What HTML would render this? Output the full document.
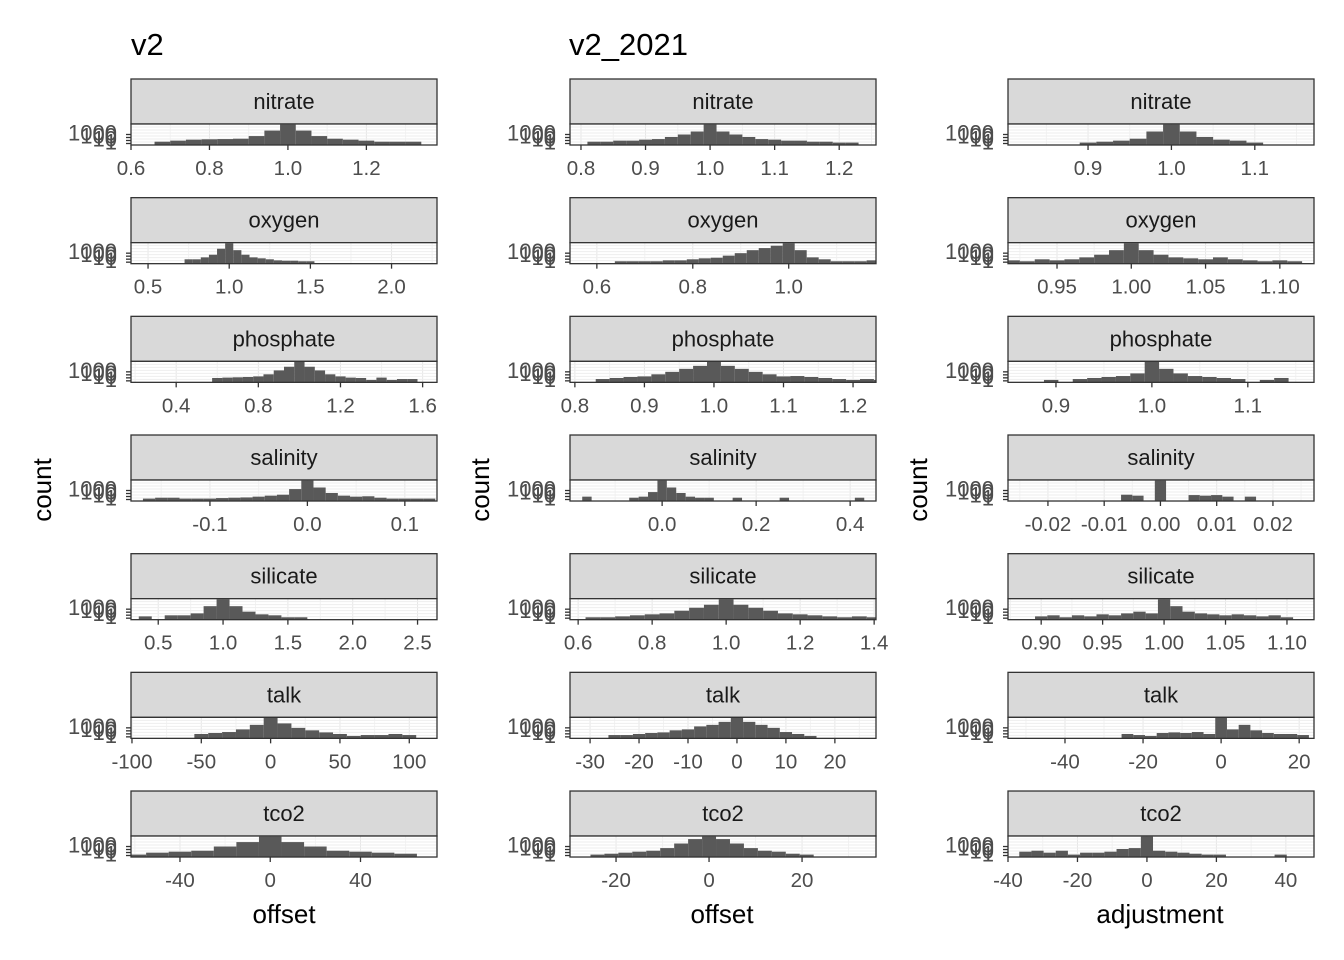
<!DOCTYPE html>
<html><head><meta charset="utf-8"><style>
body{margin:0;background:#fff;}
svg{display:block;font-family:"Liberation Sans",sans-serif;}
</style></head><body>
<svg id="chart" width="1344" height="960" viewBox="0 0 1344 960">
<text x="131" y="55" font-size="31" fill="#000">v2</text>
<text x="569" y="55" font-size="31" fill="#000">v2_2021</text>
<text transform="translate(51,490) rotate(-90)" text-anchor="middle" font-size="26">count</text>
<text transform="translate(489,490) rotate(-90)" text-anchor="middle" font-size="26">count</text>
<text transform="translate(927,490) rotate(-90)" text-anchor="middle" font-size="26">count</text>
<text x="284" y="923" text-anchor="middle" font-size="26">offset</text>
<text x="722" y="923" text-anchor="middle" font-size="26">offset</text>
<text x="1160" y="923" text-anchor="middle" font-size="26">adjustment</text>
<g id="panels"></g>
</svg>
<script>
const variables = ["nitrate","oxygen","phosphate","salinity","silicate","talk","tco2"];
// per column: x domains, tick values, first bin centre, bin width, counts
const domains1 = [[0.6,1.38],[0.395,2.28],[0.18,1.67],[-0.181,0.133],[0.29,2.65],[-100.7,120],[-61.7,73.9]];
const ticks1 = [[0.6,0.8,1.0,1.2],[0.5,1.0,1.5,2.0],[0.4,0.8,1.2,1.6],[-0.1,0.0,0.1],[0.5,1.0,1.5,2.0,2.5],[-100,-50,0,50,100],[-40,0,40]];
const tickLabels1 = [["0.6","0.8","1.0","1.2"],["0.5","1.0","1.5","2.0"],["0.4","0.8","1.2","1.6"],["-0.1","0.0","0.1"],["0.5","1.0","1.5","2.0","2.5"],["-100","-50","0","50","100"],["-40","0","40"]];
const binStart1 = [0.68,0.75,0.6,-0.1625,0.4,-50,-60];
const binWidth1 = [0.04,0.05,0.05,0.0125,0.1,10,10];
const counts1 = [
 [4,9,19,25,30,40,300,20000,2000000,20000,300,40,19,9,4,4,4],
 [9,9,40,300,30000,2000000,10000,300,40,19,9,4,3,3,2,2],
 [9,12,15,19,30,150,3000,50000,2000000,50000,3000,150,30,12,9,2,12,2,4,4],
 [2,4,4,2,2,2,3,4,5,9,19,40,3000,2000000,10000,150,19,9,12,4,2,2,2,2],
 [4,1,9,9,40,10000,2000000,10000,150,19,9,2,2],
 [9,19,40,300,10000,2000000,30000,1000,150,30,9,2,4,4,9,4],
 [2,9,19,40,1000,30000,2000000,30000,1000,40,19,9,4]
];
const domains2 = [[0.783,1.257],[0.544,1.182],[0.793,1.233],[-0.196,0.455],[0.578,1.405],[-34.1,28.4],[-29.9,35.9]];
const ticks2 = [[0.8,0.9,1.0,1.1,1.2],[0.6,0.8,1.0],[0.8,0.9,1.0,1.1,1.2],[0.0,0.2,0.4],[0.6,0.8,1.0,1.2,1.4],[-30,-20,-10,0,10,20],[-20,0,20]];
const tickLabels2 = [["0.8","0.9","1.0","1.1","1.2"],["0.6","0.8","1.0"],["0.8","0.9","1.0","1.1","1.2"],["0.0","0.2","0.4"],["0.6","0.8","1.0","1.2","1.4"],["-30","-20","-10","0","10","20"],["-20","0","20"]];
const binStart2 = [0.82,0.65,0.84,-0.16,0.64,-25,-24];
const binWidth2 = [0.02,0.025,0.02,0.02,0.04,2.5,3];
const counts2 = [
 [4,4,9,9,19,30,150,1000,10000,2000000,10000,1000,150,30,19,9,9,4,4,2,2],
 [2,2,2,2,4,4,9,19,30,150,1000,10000,50000,300000,2000000,10000,40,9,2,2,2,4],
 [4,9,19,30,150,1000,10000,100000,2000000,100000,10000,1000,150,30,40,19,9,4,2,4,2,2],
 [9,1,1,1,1,4,9,300,2000000,10000,150,9,4,4,1,1,4,1,1,1,1,4,1,1,1,1,1,1,1,4,1,1],
 [2,2,4,9,19,40,300,3000,30000,2000000,30000,3000,300,40,19,9,4,2,4,2],
 [4,4,9,19,30,150,300,3000,10000,100000,2000000,100000,10000,1000,40,9,2,1,1,1,1],
 [2,4,9,19,40,300,10000,300000,2000000,300000,10000,300,40,19,4,2,1,1,1]
];
const domains3 = [[0.804,1.171],[0.917,1.123],[0.85,1.169],[-0.0271,0.0273],[0.873,1.122],[-54.6,23.8],[-40,48.1]];
const ticks3 = [[0.9,1.0,1.1],[0.95,1.0,1.05,1.1],[0.9,1.0,1.1],[-0.02,-0.01,0,0.01,0.02],[0.9,0.95,1.0,1.05,1.1],[-40,-20,0,20],[-40,-20,0,20,40]];
const tickLabels3 = [["0.9","1.0","1.1"],["0.95","1.00","1.05","1.10"],["0.9","1.0","1.1"],["-0.02","-0.01","0.00","0.01","0.02"],["0.90","0.95","1.00","1.05","1.10"],["-40","-20","0","20"],["-40","-20","0","20","40"]];
const binStart3 = [0.9,0.92,0.895,-0.006,0.9,-24,-42];
const binWidth3 = [0.02,0.01,0.015,0.002,0.01,3,3.5];
const counts3 = [
 [2,4,9,40,10000,2000000,10000,150,19,9,2],
 [4,2,9,4,9,40,300,10000,2000000,10000,300,40,19,9,40,9,4,2,4,2],
 [2,1,4,9,19,40,300,2000000,10000,300,40,19,9,4,1,2,9,1],
 [40,19,1,2000000,1,1,30,19,30,9,1,9],
 [4,9,2,9,4,19,9,40,150,40,2000000,10000,150,40,19,9,19,9,4,9,2],
 [9,4,2,19,30,19,40,9,2000000,300,10000,150,19,9,9,4],
 [9,1,19,40,9,40,2,9,9,19,150,300,2000000,40,19,9,4,2,2,1,1,1,1,2]
];
const yTickValues = [1,10,100,1000];
const yTickLabels = ["1","10","100","1000"];

const NS="http://www.w3.org/2000/svg";
const root=document.getElementById("panels");
function mk(tag,attrs,parent){const e=document.createElementNS(NS,tag);for(const k in attrs)e.setAttribute(k,attrs[k]);(parent||root).appendChild(e);return e;}
const colX=[131,570,1008], PW=306;
const cols=[
 {d:domains1,t:ticks1,tl:tickLabels1,bs:binStart1,bw:binWidth1,c:counts1},
 {d:domains2,t:ticks2,tl:tickLabels2,bs:binStart2,bw:binWidth2,c:counts2},
 {d:domains3,t:ticks3,tl:tickLabels3,bs:binStart3,bw:binWidth3,c:counts3}];
const PXDEC=3.0;
cols.forEach((col,ci)=>{
 variables.forEach((v,ri)=>{
  const x0=colX[ci], top=79+ri*118.67, sTop=top, sBot=top+45, pTop=sBot, pBot=sBot+21;
  const [d0,d1]=col.d[ri];
  const xs=val=>x0+(val-d0)/(d1-d0)*PW;
  const ys=c=>Math.max(pTop,pBot-1.5-Math.log10(c)*PXDEC);
  const g=mk("g",{});
  
  
  const strip=mk("rect",{x:x0,y:sTop,width:PW,height:45,fill:"#d9d9d9",stroke:"#333","stroke-width":1.3},g);
  
  
  const st=mk("text",{x:x0+PW/2,y:sTop+30,"text-anchor":"middle","font-size":22,fill:"#1a1a1a"},g);
  st.textContent=v;
  
  
  mk("rect",{x:x0,y:pTop,width:PW,height:21,fill:"#fff"},g);
  const tks=col.t[ri];
  const step=tks.length>1?tks[1]-tks[0]:0.1;
  for(let k=-6;k<tks.length*2+6;k++){
   const val=tks[0]+k*step/2; const xx=xs(val);
   if(xx>x0&&xx<x0+PW) mk("line",{x1:xx,x2:xx,y1:pTop,y2:pBot,stroke:(k%2)?"#f2f2f2":"#e6e6e6","stroke-width":1},g);
  }
  for(let yy=pTop+3;yy<pBot;yy+=3){mk("line",{x1:x0,x2:x0+PW,y1:yy,y2:yy,stroke:"#eeeeee","stroke-width":1},g);}
  col.c[ri].forEach((cnt,bi)=>{
   const cen=col.bs[ri]+bi*col.bw[ri];
   const a=cen-col.bw[ri]/2, b=cen+col.bw[ri]/2;
   const xa=Math.max(xs(a),x0), xb=Math.min(xs(b),x0+PW);
   if(cnt<=1||xb<=xa) return;
   const r=mk("rect",{x:xa,y:ys(cnt),width:xb-xa,height:pBot-ys(cnt),fill:"#595959"},g);
   
   
  });
  mk("rect",{x:x0,y:pTop,width:PW,height:21,fill:"none",stroke:"#333","stroke-width":1.3},g);
  yTickValues.forEach((tv,ti)=>{
   const yy=ys(tv);
   mk("line",{x1:x0-5,x2:x0,y1:yy,y2:yy,stroke:"#333","stroke-width":1.3},g);
   const yt=mk("text",{x:x0-14,y:yy+6,"text-anchor":"end","font-size":22,fill:"#4d4d4d"},g);
   yt.textContent=yTickLabels[ti];
   
   
  });
  tks.forEach((tv,ti)=>{
   const xx=xs(tv);
   mk("line",{x1:xx,x2:xx,y1:pBot,y2:pBot+5,stroke:"#333","stroke-width":1.3},g);
   const xt=mk("text",{x:xx,y:pBot+30,"text-anchor":"middle","font-size":20.5,fill:"#4d4d4d"},g);
   xt.textContent=col.tl[ri][ti];
   
   
  });
 });
});
</script>
</body></html>
